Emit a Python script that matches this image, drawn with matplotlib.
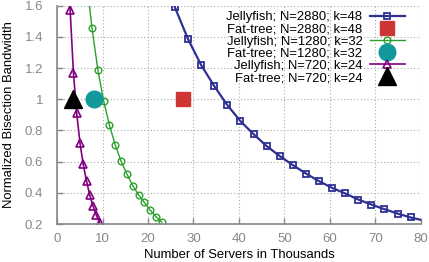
import numpy as np
import matplotlib
matplotlib.use("Agg")
from matplotlib import pyplot as plt

plt.rcParams['font.family'] = ['Liberation Sans', 'DejaVu Sans']

# servers (thousands) and normalized bisection bandwidth
jf2880_x = [2.88 * s for s in range(8, 29)]
jf2880_y = [1.84, 1.59, 1.386, 1.22, 1.085, 0.963, 0.86, 0.777, 0.70, 0.636, 0.578,
            0.524, 0.475, 0.432, 0.396, 0.357, 0.325, 0.295, 0.267, 0.242, 0.222]
jf1280_x = [1.28 * s for s in range(5, 19)]
jf1280_y = [1.78, 1.459, 1.19, 0.99, 0.834, 0.706, 0.603, 0.52, 0.447, 0.387,
            0.338, 0.289, 0.246, 0.212]
jf720_x = [0.72 * s for s in range(3, 14)]
jf720_y = [2.3, 1.572, 1.17, 0.91, 0.72, 0.582, 0.475, 0.385, 0.314, 0.257, 0.207]

ft_x = [27.648, 8.192, 3.456]
ft_y = [1.0, 1.0, 1.0]

xticks = list(range(0, 90, 10))
yticks = [0.2, 0.4, 0.6, 0.8, 1.0, 1.2, 1.4, 1.6]

fig = plt.figure(figsize=(4.29, 2.62), dpi=100)
ax = fig.add_axes([0.133, 0.145, 0.848, 0.833])

grey = '#888888'
ax.plot(jf2880_x, jf2880_y, '-s', color='#2e3192', lw=1.6, ms=4.5, mfc='none', mew=1.3,
        markevery=list(range(1, 20)), label='Jellyfish; N=2880; k=48')
ax.plot(ft_x[0], ft_y[0], 's', color='#d03535', ms=9.5, label='Fat-tree; N=2880; k=48')
ax.plot(jf1280_x, jf1280_y, '-o', color='#2ca02c', lw=1.0, ms=4.8, mfc='none', mew=1.0,
        markevery=list(range(1, 14)), label='Jellyfish; N=1280; k=32')
ax.plot(ft_x[1], ft_y[1], 'o', color='#11999b', ms=12, label='Fat-tree; N=1280; k=32')
ax.plot(jf720_x, jf720_y, '-^', color='#800080', lw=1.2, ms=5.5, mfc='none', mew=1.2,
        markevery=list(range(1, 11)), label='Jellyfish; N=720; k=24')
ax.plot(ft_x[2], ft_y[2], '^', color='black', ms=13, label='Fat-tree; N=720; k=24')

ax.set_xlim(0, 80)
ax.set_ylim(0.2, 1.6)
ax.set_xticks(xticks)
ax.set_yticks(yticks)
ax.set_yticklabels(['%g' % v for v in yticks])
ax.grid(True, linestyle=(0, (1, 2)), color='#aaaaaa', lw=0.8)
for side in ['top', 'right']:
    ax.spines[side].set_visible(False)
for side in ['left', 'bottom']:
    ax.spines[side].set_color(grey)
    ax.spines[side].set_linewidth(1.2)
ax.tick_params(direction='in', colors=grey, labelsize=9.5, length=4, width=1.0)
ax.tick_params(axis='x', pad=6.5)
ax.tick_params(axis='y', pad=10)
for lbl in ax.get_xticklabels() + ax.get_yticklabels():
    lbl.set_color(grey)

ax.set_xlabel('Number of Servers in Thousands', fontsize=9.4, labelpad=3)
ax.set_ylabel('Normalized Bisection Bandwidth', fontsize=9.4, labelpad=7)

leg = ax.legend(loc='upper right', bbox_to_anchor=(0.956, 0.975), markerfirst=False,
                frameon=False, fontsize=9.4, handlelength=2.7, labelspacing=0.0,
                borderaxespad=0, borderpad=0, handletextpad=0.55)
for col in leg._legend_handle_box.get_children():
    col.align = 'right'

fig.savefig('out.png', dpi=100)
